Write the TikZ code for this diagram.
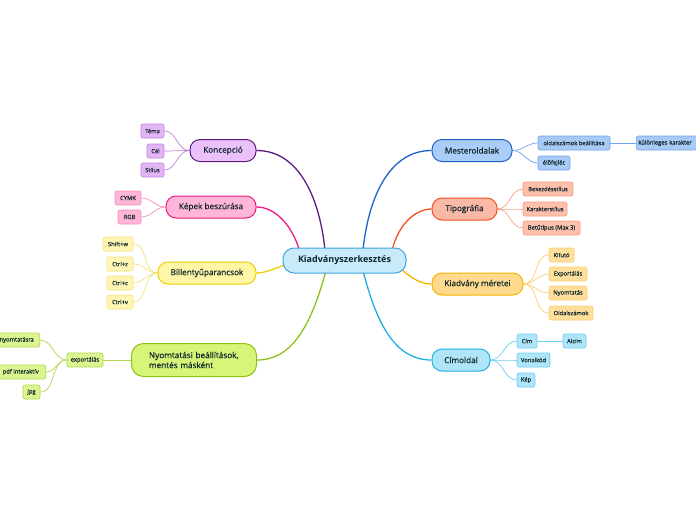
\documentclass[tikz,border=0pt]{standalone}
\usepackage{fontspec}
\setmainfont{Open Sans}
\newfontfamily\medfont{Open Sans}[FakeBold=0.4]
\newfontfamily\lightmed{Open Sans}[FakeBold=0.15]
\usetikzlibrary{calc}
\pgfdeclarelayer{back}
\pgfdeclarelayer{bg}
\pgfsetlayers{back,bg,main}
\definecolor{txt}{HTML}{0F262A}
\definecolor{cF}{HTML}{C9EAFB}\definecolor{cD}{HTML}{3AA6DD}
\definecolor{konF}{HTML}{EBC1FB}\definecolor{konD}{HTML}{5E1B80}\definecolor{konSF}{HTML}{E2B5F5}\definecolor{konSD}{HTML}{C184DC}
\definecolor{kepF}{HTML}{FFB6D9}\definecolor{kepD}{HTML}{EE1A82}\definecolor{kepSF}{HTML}{FFB5D5}\definecolor{kepSD}{HTML}{F590C0}
\definecolor{bilF}{HTML}{FFF6A6}\definecolor{bilD}{HTML}{ECD000}\definecolor{bilSF}{HTML}{FFF6B5}\definecolor{bilSD}{HTML}{F2E27A}
\definecolor{nyoF}{HTML}{D8F57A}\definecolor{nyoD}{HTML}{8DC21A}\definecolor{nyoSF}{HTML}{DCF590}\definecolor{nyoSD}{HTML}{AFD84A}
\definecolor{mesF}{HTML}{A9CDF6}\definecolor{mesD}{HTML}{1F62C9}\definecolor{mesSF}{HTML}{A8CBF5}\definecolor{mesSD}{HTML}{6FA5EA}
\definecolor{tipF}{HTML}{F9B9A6}\definecolor{tipD}{HTML}{F4511E}\definecolor{tipSF}{HTML}{FCC0AD}\definecolor{tipSD}{HTML}{F5A085}
\definecolor{kiaF}{HTML}{FFD98C}\definecolor{kiaD}{HTML}{F7B500}\definecolor{kiaSF}{HTML}{FFDF9C}\definecolor{kiaSD}{HTML}{FCCF72}
\definecolor{cimF}{HTML}{B0E4F8}\definecolor{cimD}{HTML}{1FB0E6}\definecolor{cimSF}{HTML}{B0E4F8}\definecolor{cimSD}{HTML}{6CCFF2}
\begin{document}
\begin{tikzpicture}[x=1pt,y=-1pt,
  centerbox/.style={draw=cD, fill=cF, line width=1pt, rounded corners=11pt, minimum width=123pt, minimum height=25pt, inner sep=0pt, font=\fontsize{9}{10}\selectfont\bfseries, text=txt},
  mainbox/.style={draw, line width=1pt, rounded corners=10pt, minimum height=22pt, inner sep=0pt, font=\medfont\fontsize{8.2}{10}\selectfont, text=txt},
  subbox/.style={draw, line width=0.6pt, rounded corners=2pt, minimum height=14pt, inner sep=0pt, font=\lightmed\fontsize{5.8}{7}\selectfont, text=txt},
  link/.style={line width=1.3pt},
  sublink/.style={line width=0.7pt}]
\useasboundingbox (0,0) rectangle (696,520);
\clip (0,0) rectangle (696,520);
\begin{pgfonlayer}{back}
\fill[white] (0,0) rectangle (696,520);
\end{pgfonlayer}

% central
\node[centerbox] (c) at (344.5,260.5) {Kiadványszerkesztés};

% main nodes left
\node[mainbox, fill=konF, draw=konD, minimum width=66pt] (kon) at (223,150.5) {Koncepció};
\node[mainbox, fill=kepF, draw=kepD, minimum width=90pt] (kep) at (211,207) {Képek beszúrása};
\node[mainbox, fill=bilF, draw=bilD, minimum width=98pt] (bil) at (207,273) {Billentyűparancsok};
\node[mainbox, fill=nyoF, draw=nyoD, minimum width=125pt, minimum height=33pt, rounded corners=12pt, text width=90pt, align=left] (nyo) at (194,360) {Nyomtatási beállítások,\\mentés másként};

% main nodes right
\node[mainbox, fill=mesF, draw=mesD, minimum width=80pt] (mes) at (472,150.5) {Mesteroldalak};
\node[mainbox, fill=tipF, draw=tipD, minimum width=65pt] (tip) at (464.5,209) {Tipográfia};
\node[mainbox, fill=kiaF, draw=kiaD, minimum width=91pt] (kia) at (477.5,284) {Kiadvány méretei};
\node[mainbox, fill=cimF, draw=cimD, minimum width=58pt] (cim) at (461,360) {Címoldal};

% sub nodes: Koncepció
\node[subbox, fill=konSF, draw=konSD, minimum width=23pt] (tema) at (152.5,131) {Téma};
\node[subbox, fill=konSF, draw=konSD, minimum width=17pt] (cel) at (155.5,151) {Cél};
\node[subbox, fill=konSF, draw=konSD, minimum width=23pt] (stilus) at (152.5,170) {Stílus};
% Képek
\node[subbox, fill=kepSF, draw=kepSD, minimum width=26pt] (cymk) at (128,198) {CYMK};
\node[subbox, fill=kepSF, draw=kepSD, minimum width=23pt] (rgb) at (129.5,217) {RGB};
% Billentyű
\node[subbox, fill=bilSF, draw=bilSD, minimum width=30pt] (sw) at (118,244) {Shift+w};
\node[subbox, fill=bilSF, draw=bilSD, minimum width=26pt] (cz) at (120,264) {Ctrl+z};
\node[subbox, fill=bilSF, draw=bilSD, minimum width=26pt] (cc) at (120,283) {Ctrl+c};
\node[subbox, fill=bilSF, draw=bilSD, minimum width=26pt] (cv) at (120,302) {Ctrl+v};
% Nyomtatási
\node[subbox, fill=nyoSF, draw=nyoSD, minimum width=36pt] (exp) at (85,360) {exportálás};
\node[subbox, fill=nyoSF, draw=nyoSD, minimum width=46pt, anchor=east] (nyt) at (40,340) {nyomtatásra};
\node[subbox, fill=nyoSF, draw=nyoSD, minimum width=50pt, anchor=east] (pdf) at (46,372) {pdf interaktív};
\node[subbox, fill=nyoSF, draw=nyoSD, minimum width=17pt] (jpg) at (31.5,392) {jpg};
% Mesteroldalak
\node[subbox, fill=mesSF, draw=mesSD, minimum width=72pt] (old) at (574,143) {oldalszámok beállítása};
\node[subbox, fill=mesSF, draw=mesSD, minimum width=32pt] (elo) at (554,163) {élőfejléc};
\node[subbox, fill=mesSF, draw=mesSD, minimum width=66pt, anchor=west, text width=62pt, align=left] (kul) at (636,143) {különleges karakter};
% Tipográfia
\node[subbox, fill=tipSF, draw=tipSD, minimum width=50pt] (bek) at (548,189) {Bekezdésstílus};
\node[subbox, fill=tipSF, draw=tipSD, minimum width=44pt] (kar) at (545,209) {Karakterstílus};
\node[subbox, fill=tipSF, draw=tipSD, minimum width=57pt] (bet) at (551.5,228) {Betűtípus (Max 3)};
% Kiadvány méretei
\node[subbox, fill=kiaSF, draw=kiaSD, minimum width=25pt] (kif) at (561.5,255) {Kifutó};
\node[subbox, fill=kiaSF, draw=kiaSD, minimum width=38pt] (exa) at (568,274) {Exportálás};
\node[subbox, fill=kiaSF, draw=kiaSD, minimum width=38pt] (nya) at (568,293) {Nyomtatás};
\node[subbox, fill=kiaSF, draw=kiaSD, minimum width=44pt] (ols) at (571,313) {Oldalszámok};
% Címoldal
\node[subbox, fill=cimSF, draw=cimSD, minimum width=20pt] (cm) at (527,341) {Cím};
\node[subbox, fill=cimSF, draw=cimSD, minimum width=33pt] (von) at (533.5,360) {Vonalkód};
\node[subbox, fill=cimSF, draw=cimSD, minimum width=18pt] (kp) at (526,380) {Kép};
\node[subbox, fill=cimSF, draw=cimSD, minimum width=23pt] (alc) at (574.5,341) {Alcím};

\begin{pgfonlayer}{bg}
% main connectors
\draw[link, konD] ($(c.north)+(-19.5,3)$) .. controls (320,200) and (300,150.5) .. (kon.east);
\draw[link, kepD] ($(c.north)+(-45,3)$) .. controls (292,225) and (275,207) .. (kep.east);
\draw[link, bilD] ($(c.west)+(3,4.5)$) .. controls (275,268) and (266,273) .. (bil.east);
\draw[link, nyoD] ($(c.south)+(-18.5,-3)$) .. controls (310,330) and (290,360) .. (nyo.east);
\draw[link, mesD] ($(c.north)+(18.5,3)$) .. controls (368,200) and (388,150.5) .. (mes.west);
\draw[link, tipD] ($(c.north)+(47.5,3)$) .. controls (398,225) and (415,209) .. (tip.west);
\draw[link, kiaD] ($(c.south east)+(-5,-4)$) .. controls (412,278) and (420,284) .. (kia.west);
\draw[link, cimD] ($(c.south)+(18.5,-3)$) .. controls (378,330) and (398,360) .. (cim.west);
% sub connectors
\foreach \n in {tema,cel,stilus} \draw[sublink, konSD] (kon.west) to[out=180,in=0] (\n.east);
\foreach \n in {cymk,rgb} \draw[sublink, kepSD] (kep.west) to[out=180,in=0] (\n.east);
\foreach \n in {sw,cz,cc,cv} \draw[sublink, bilSD] (bil.west) to[out=180,in=0] (\n.east);
\draw[sublink, nyoSD] (nyo.west) -- (exp.east);
\foreach \n in {nyt,pdf,jpg} \draw[sublink, nyoSD] (exp.west) to[out=180,in=0] (\n.east);
\foreach \n in {old,elo} \draw[sublink, mesSD] (mes.east) to[out=0,in=180] (\n.west);
\draw[sublink, mesSD] (old.east) -- (kul.west);
\foreach \n in {bek,kar,bet} \draw[sublink, tipSD] (tip.east) to[out=0,in=180] (\n.west);
\foreach \n in {kif,exa,nya,ols} \draw[sublink, kiaSD] (kia.east) to[out=0,in=180] (\n.west);
\foreach \n in {cm,von,kp} \draw[sublink, cimSD] (cim.east) to[out=0,in=180] (\n.west);
\draw[sublink, cimSD] (cm.east) -- (alc.west);
\end{pgfonlayer}
\end{tikzpicture}
\end{document}
